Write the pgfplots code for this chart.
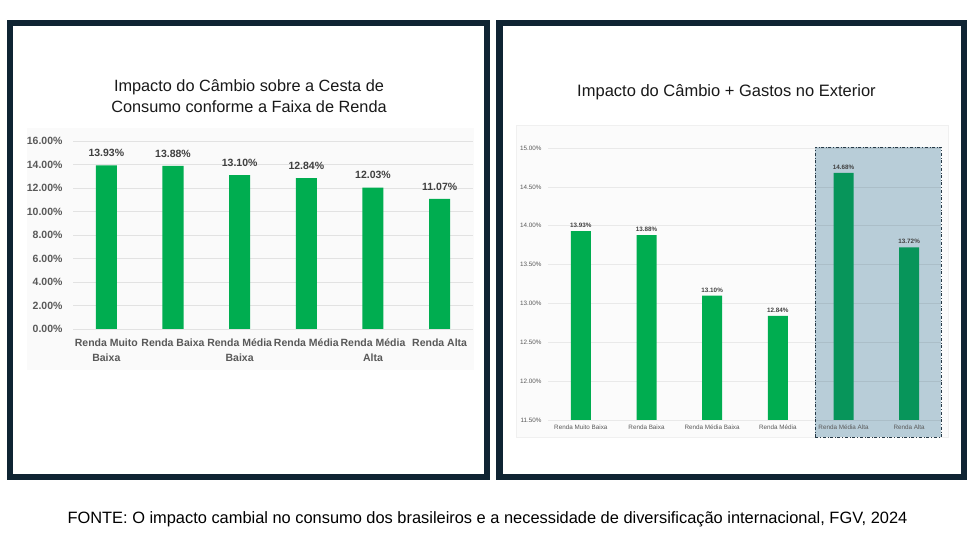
\documentclass[border=0pt]{standalone}
\usepackage{pgfplots}
\pgfplotsset{compat=1.18}
\usepackage{fontspec}
\setmainfont{Liberation Sans}
\definecolor{navy}{HTML}{0F2433}
\definecolor{bargreen}{HTML}{00AD50}
\definecolor{darkgreen}{HTML}{07955A}
\definecolor{boxfill}{HTML}{B8CDD8}
\definecolor{ticktxt}{HTML}{595959}
\definecolor{labtxt}{HTML}{404040}
\definecolor{gridc}{HTML}{E2E2E2}
\begin{document}
\begin{tikzpicture}
% canvas
\fill[white] (0pt,0pt) rectangle (975pt,548pt);
% chart backgrounds
\fill[black!2] (27pt,178pt) rectangle (474pt,420pt);
\filldraw[fill=black!1.5, draw=black!6] (516pt,111pt) rectangle (948pt,423pt);
% highlight box
\filldraw[fill=boxfill, draw=navy!90, dash dot, line width=0.9pt] (815pt,111pt) rectangle (941pt,401pt);
% frames
\draw[navy, line width=6.5pt] (10pt,71pt) rectangle (487pt,525pt);
\draw[navy, line width=6.5pt] (499.5pt,71pt) rectangle (964pt,525pt);
% titles
\node[align=center, font=\fontsize{16.3}{21}\selectfont, text=black!90] at (249pt,451.5pt) {Impacto do Câmbio sobre a Cesta de\\Consumo conforme a Faixa de Renda};
\node[font=\fontsize{16.5}{21}\selectfont, text=black!90] at (726.5pt,456pt) {Impacto do Câmbio + Gastos no Exterior};
% caption
\node[font=\fontsize{16.4}{19}\selectfont, text=black] at (487.5pt,29pt) {FONTE: O impacto cambial no consumo dos brasileiros e a necessidade de diversificação internacional, FGV, 2024};

% left chart
\begin{axis}[
  at={(73pt,219pt)}, anchor=south west,
  scale only axis, width=400pt, height=188pt,
  xmin=-0.5, xmax=5.5, ymin=0, ymax=16,
  ytick={0,2,...,16},
  xtick={0,...,5},
  xticklabels={{Renda Muito\\Baixa},{Renda Baixa},{Renda Média\\Baixa},{Renda Média},{Renda Média\\Alta},{Renda Alta}},
  /pgf/number format/assume math mode=true,
  yticklabel={\pgfmathprintnumber[fixed,fixed zerofill,precision=2]{\tick}\%},
  ymajorgrids, grid style={gridc, line width=0.8pt},
  axis line style={draw=none},
  major tick length=0pt,
  yticklabel style={font=\bfseries\fontsize{10.5}{12}\selectfont, text=ticktxt, xshift=-7pt},
  xticklabel style={font=\bfseries\fontsize{10.5}{15}\selectfont, text=ticktxt, align=center, yshift=-6pt},
  ybar, bar width=21pt,
  nodes near coords={\pgfmathprintnumber[fixed,fixed zerofill,precision=2]{\pgfplotspointmeta}\%},
  nodes near coords style={font=\bfseries\fontsize{10.5}{12}\selectfont, text=labtxt, yshift=5pt},
  clip=false,
]
\addplot[fill=bargreen, draw=none, bar shift=0pt] coordinates {(0,13.93) (1,13.88) (2,13.10) (3,12.84) (4,12.03) (5,11.07)};
\end{axis}

% right chart
\begin{axis}[
  at={(548pt,128pt)}, anchor=south west,
  scale only axis, width=394pt, height=272pt,
  xmin=-0.5, xmax=5.5, ymin=11.5, ymax=15,
  ytick={11.5,12,...,15},
  xtick={0,...,5},
  xticklabels={Renda Muito Baixa,Renda Baixa,Renda Média Baixa,Renda Média,Renda Média Alta,Renda Alta},
  /pgf/number format/assume math mode=true,
  yticklabel={\pgfmathprintnumber[fixed,fixed zerofill,precision=2]{\tick}\%},
  ymajorgrids, grid style={black, draw opacity=0.07, line width=0.6pt},
  axis line style={draw=none},
  major tick length=0pt,
  yticklabel style={font=\fontsize{6.3}{7}\selectfont, text=ticktxt, xshift=-3pt},
  xticklabel style={font=\fontsize{6.3}{7}\selectfont, text=ticktxt, yshift=-1pt},
  ybar, bar width=20pt,
  nodes near coords={\pgfmathprintnumber[fixed,fixed zerofill,precision=2]{\pgfplotspointmeta}\%},
  nodes near coords style={font=\bfseries\fontsize{6.3}{7}\selectfont, text=labtxt, yshift=0pt},
]
\addplot[fill=bargreen, draw=none, bar shift=0pt] coordinates {(0,13.93) (1,13.88) (2,13.10) (3,12.84)};
\addplot[fill=darkgreen, draw=none, bar shift=0pt] coordinates {(4,14.68) (5,13.72)};
\end{axis}
\end{tikzpicture}
\end{document}
